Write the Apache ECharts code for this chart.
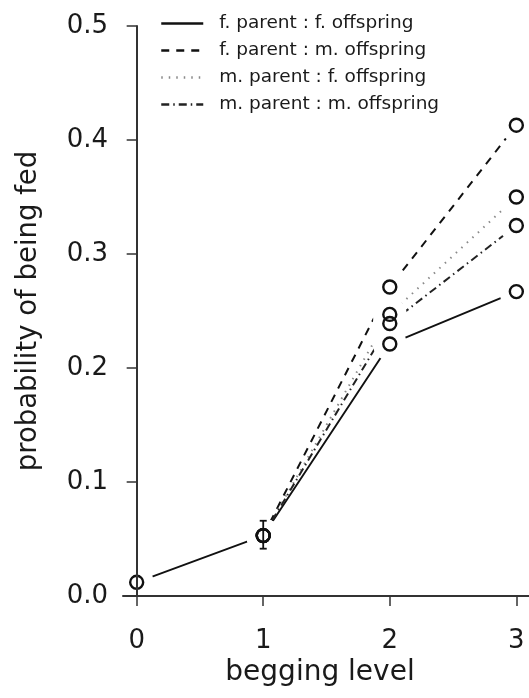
<!DOCTYPE html>
<html>
<head>
<meta charset="utf-8">
<script src="https://cdn.jsdelivr.net/npm/echarts@6/dist/echarts.min.js"></script>
<style>
  html, body { margin: 0; padding: 0; background: #fff; }
  #chart { width: 529px; height: 698px; }
</style>
</head>
<body>
<div id="chart"></div>
<script>
// series names, as in the legend
const names = [
  'f. parent : f. offspring',
  'f. parent : m. offspring',
  'm. parent : f. offspring',
  'm. parent : m. offspring'
]

// begging level and probability of being fed, per parent:offspring pair
const ffLevel = [0, 1, 2, 3]
const ffProb = [0.012, 0.053, 0.221, 0.267]
const fmLevel = [1, 2, 3]
const fmProb = [0.053, 0.271, 0.413]
const mfLevel = [1, 2, 3]
const mfProb = [0.053, 0.247, 0.35]
const mmLevel = [1, 2, 3]
const mmProb = [0.053, 0.239, 0.325]

// error bar at level 1
const errLevel = [1]
const errLow = [0.0415]
const errHigh = [0.066]

const xTicks = [0, 1, 2, 3]

const pairs = (xs, ys) => xs.map((x, i) => [x, ys[i]])
const ff = pairs(ffLevel, ffProb)
const fm = pairs(fmLevel, fmProb)
const mf = pairs(mfLevel, mfProb)
const mm = pairs(mmLevel, mmProb)
const allPoints = [].concat(ff, fm, mf, mm)

const font = 'DejaVu Sans'
const ink = '#1a1a1a'

const lineSeries = (name, data, color, type, width) => ({
  name,
  type: 'line',
  data,
  symbol: 'none',
  z: 2,
  lineStyle: { color, type, width },
  itemStyle: { color },
  emphasis: { disabled: true }
})

const chart = echarts.init(document.getElementById('chart'), null, { renderer: 'canvas' })

chart.setOption({
  animation: false,
  backgroundColor: '#fff',
  grid: { left: 123, right: 0, top: 26, bottom: 102 },
  legend: {
    orient: 'vertical',
    left: 155,
    top: 9,
    itemWidth: 42,
    itemHeight: 12,
    itemGap: 8,
    data: names,
    lineStyle: { width: 2.5 },
    itemStyle: { color: 'rgba(0,0,0,0)', borderColor: 'rgba(0,0,0,0)', borderWidth: 0 },
    textStyle: { fontFamily: font, fontSize: 18.5, color: ink, padding: [0, 0, 0, 11] }
  },
  xAxis: {
    type: 'value',
    min: -0.108,
    max: 3.1,
    z: 10,
    name: 'begging level',
    nameLocation: 'middle',
    nameGap: 58,
    nameTextStyle: { fontFamily: font, fontSize: 28, color: ink, padding: [0, 12, 0, 0] },
    splitLine: { show: false },
    axisLine: { onZero: false, lineStyle: { color: '#333', width: 2 } },
    axisTick: { customValues: xTicks, length: 10, lineStyle: { color: '#333', width: 1.5 } },
    axisLabel: { customValues: xTicks, margin: 32, fontFamily: font, fontSize: 26, color: ink }
  },
  yAxis: {
    type: 'value',
    min: 0,
    max: 0.5,
    interval: 0.1,
    z: 10,
    name: 'probability of being fed',
    nameLocation: 'middle',
    nameGap: 80,
    nameTextStyle: { fontFamily: font, fontSize: 27.5, color: ink },
    splitLine: { show: false },
    axisLine: { show: true, lineStyle: { color: '#333', width: 2 } },
    axisTick: { show: true, length: 10, lineStyle: { color: '#333', width: 1.5 } },
    axisLabel: {
      margin: 15,
      fontFamily: font,
      fontSize: 26,
      color: ink,
      formatter: v => v.toFixed(1)
    }
  },
  series: [
    lineSeries(names[0], ff, '#111', 'solid', 1.9),
    lineSeries(names[1], fm, '#111', [8, 7], 2),
    lineSeries(names[2], mf, '#8a8a8a', [1.5, 6], 2),
    lineSeries(names[3], mm, '#222', [8, 4, 1.5, 4], 2),
    {
      // white halo so lines stop short of the points
      type: 'scatter',
      data: allPoints,
      symbol: 'circle',
      symbolSize: 34,
      z: 3,
      silent: true,
      itemStyle: { color: '#fff', opacity: 1 }
    },
    {
      type: 'scatter',
      data: allPoints,
      symbol: 'circle',
      symbolSize: 13,
      z: 4,
      silent: true,
      itemStyle: { color: 'rgba(255,255,255,0)', borderColor: '#111', borderWidth: 2.4, opacity: 1 }
    },
    {
      type: 'custom',
      z: 5,
      silent: true,
      data: errLevel.map((x, i) => [x, errLow[i], errHigh[i]]),
      renderItem: (params, api) => {
        const lo = api.coord([api.value(0), api.value(1)])
        const hi = api.coord([api.value(0), api.value(2)])
        const cap = 3.5
        const style = { stroke: '#111', lineWidth: 1.8 }
        return {
          type: 'group',
          children: [
            { type: 'line', shape: { x1: lo[0], y1: lo[1], x2: hi[0], y2: hi[1] }, style },
            { type: 'line', shape: { x1: lo[0] - cap, y1: lo[1], x2: lo[0] + cap, y2: lo[1] }, style },
            { type: 'line', shape: { x1: hi[0] - cap, y1: hi[1], x2: hi[0] + cap, y2: hi[1] }, style }
          ]
        }
      }
    }
  ]
})
</script>
</body>
</html>
